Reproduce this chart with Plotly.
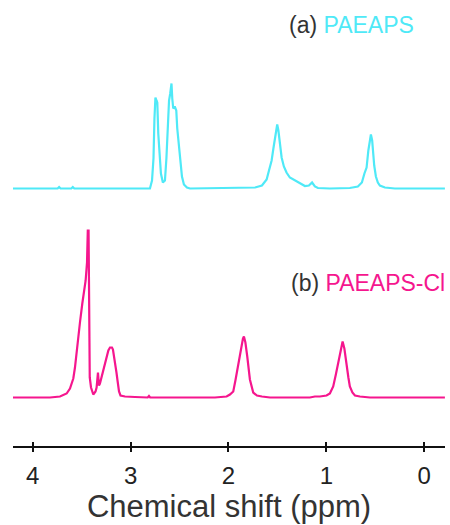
import plotly.graph_objects as go

# ---- data ----
# (a) PAEAPS : chemical shift (ppm) and intensity above baseline (arb. units)
ppm_a = [4.21, 3.80, 3.745, 3.73, 3.715, 3.605, 3.59, 3.575, 3.30, 2.802, 2.781, 2.766, 2.756, 2.746,
         2.735, 2.727, 2.717, 2.705, 2.690, 2.670, 2.649, 2.634, 2.620, 2.607, 2.595,
         2.582, 2.574, 2.564, 2.549, 2.533, 2.523, 2.506, 2.490, 2.475, 2.455, 2.424,
         2.393, 1.881, 1.728, 1.658, 1.610, 1.586, 1.559, 1.541, 1.525, 1.512, 1.502,
         1.490, 1.475, 1.457, 1.434, 1.407, 1.373, 1.322, 1.270, 1.219, 1.178, 1.146,
         1.117, 1.086, 0.964, 0.760, 0.678, 0.637, 0.611, 0.589, 0.571, 0.555, 0.545,
         0.532, 0.511, 0.494, 0.474, 0.453, 0.402, 0.300, -0.211]
int_a = [0, 0, 0, 1.5, 0, 0, 1.5, 0, 0, 0, 8, 30, 70, 91,
         88, 86, 55, 35, 15, 6, 8, 30, 70, 88, 95,
         105, 90, 80, 82, 78, 60, 45, 25, 12, 4, 1,
         0, 0.5, 1, 3, 9, 18, 28, 40, 52, 60, 64,
         58, 42, 31, 22, 16, 11, 8, 5, 2.5, 3, 6,
         2, 0.5, 0, 0.5, 2, 6, 15, 21, 38, 50, 54,
         48, 23, 12, 6, 3, 1, 0, 0]

# (b) PAEAPS-Cl
ppm_b = [4.21, 3.823, 3.721, 3.653, 3.619, 3.585, 3.568, 3.558, 3.540, 3.517, 3.493,
         3.473, 3.459, 3.445, 3.437, 3.429, 3.422, 3.417, 3.404, 3.381, 3.358, 3.347,
         3.333, 3.323, 3.313, 3.295, 3.272, 3.245, 3.227, 3.210, 3.190, 3.180, 3.159,
         3.144, 3.132, 3.118, 3.103, 3.057, 2.955, 2.825, 2.812, 2.800, 2.138, 2.019,
         1.985, 1.951, 1.929, 1.910, 1.893, 1.883, 1.868, 1.852, 1.842, 1.827, 1.808,
         1.781, 1.747, 1.709, 1.658, 1.576, 1.168, 1.117, 1.066, 0.998, 0.964, 0.930,
         0.903, 0.879, 0.857, 0.834, 0.816, 0.794, 0.775, 0.760, 0.734, 0.708, 0.657,
         0.555, -0.211]
int_b = [0, 0, 1, 4, 9, 19, 30, 39, 59, 75, 94,
         109, 117, 135, 167, 167, 100, 20, 10, 3, 6, 10,
         25, 12, 14, 21, 30, 41, 47, 50, 50, 48, 36,
         25, 16, 6, 2, 1, 0.5, 0, 1.5, 0, 0, 1,
         3, 6, 17, 28, 38, 45, 53, 59, 61, 55, 41,
         18, 5, 2, 1, 0, 0, 1, 1, 2, 4, 11,
         23, 35, 47, 56, 49, 31, 20, 11, 5, 2, 1,
         0, 0]

tick_vals = [4, 3, 2, 1, 0]
tick_text = ["4", "3", "2", "1", "0"]
label_a = "PAEAPS"
label_b = "PAEAPS-Cl"

# stacking offsets of the two spectra
offset_a = 257.5
offset_b = 48.5

col_a = "#4FE9F7"
col_b = "#F5168E"
FONT = "Liberation Sans, Arial, sans-serif"

fig = go.Figure()
fig.add_trace(go.Scatter(x=ppm_a, y=[v + offset_a for v in int_a], mode="lines",
                         line=dict(color=col_a, width=2.2), showlegend=False, hoverinfo="skip"))
fig.add_trace(go.Scatter(x=ppm_b, y=[v + offset_b for v in int_b], mode="lines",
                         line=dict(color=col_b, width=2.2), showlegend=False, hoverinfo="skip"))
# invisible trace on the second x axis (for the inner half of the ticks)
fig.add_trace(go.Scatter(x=[tick_vals[0]], y=[0], xaxis="x2", mode="markers",
                         marker=dict(opacity=0), showlegend=False, hoverinfo="skip"))

xr = [4.201, -0.212]
fig.update_layout(
    width=450, height=525,
    margin=dict(l=13, r=5, t=0, b=79),
    paper_bgcolor="white", plot_bgcolor="white",
    font=dict(family=FONT, color="#222"),
    xaxis=dict(range=xr, showline=True, linecolor="#111", linewidth=2,
               ticks="outside", ticklen=4, tickwidth=2, tickcolor="#111",
               tickvals=tick_vals, ticktext=tick_text, ticklabelstandoff=3,
               tickfont=dict(size=24, color="#222"),
               showgrid=False, zeroline=False,
               title=dict(text="Chemical shift (ppm)", font=dict(size=31, color="#333"), standoff=4)),
    xaxis2=dict(range=xr, overlaying="x", anchor="y", side="bottom",
                ticks="inside", ticklen=4, tickwidth=2, tickcolor="#111",
                tickvals=tick_vals, showticklabels=False, showline=False,
                showgrid=False, zeroline=False),
    yaxis=dict(range=[0, 446], visible=False, showgrid=False, zeroline=False),
    annotations=[
        dict(xref="paper", yref="paper", x=0.933, y=0.944, xanchor="right", yanchor="middle",
             showarrow=False, font=dict(size=23, family=FONT, color="#333"),
             text="(a) <span style='color:%s'>%s</span>" % (col_a, label_a)),
        dict(xref="paper", yref="paper", x=1.004, y=0.365, xanchor="right", yanchor="middle",
             showarrow=False, font=dict(size=23, family=FONT, color="#333"),
             text="(b) <span style='color:%s'>%s</span>" % (col_b, label_b)),
    ],
)

fig.write_html("out.html")
